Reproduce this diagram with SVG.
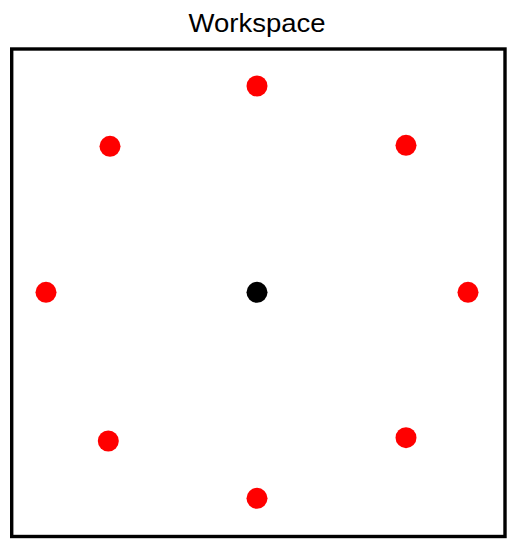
<svg xmlns="http://www.w3.org/2000/svg" width="515" height="547" viewBox="0 0 515 547">
<style>
.title{font-family:"Liberation Sans",Arial,sans-serif;font-size:26px;fill:#000;text-anchor:middle}
.frame{fill:#fff;stroke:#000;stroke-width:3.4}
.pt{fill:#ff0000}
.ctr{fill:#000}
</style>
<rect width="515" height="547" fill="#fff"/>
<text class="title" x="257" y="32" textLength="137" lengthAdjust="spacingAndGlyphs">Workspace</text>
<rect class="frame" x="11.7" y="49" width="493.3" height="487.5"/>
<g id="connectors"></g>
<g id="center"><circle class="ctr" cx="257" cy="292.3" r="10.5"/></g>
<g id="p-top"><circle class="pt" cx="257" cy="86" r="10.5"/></g>
<g id="p-upper-left"><circle class="pt" cx="110" cy="146.3" r="10.5"/></g>
<g id="p-upper-right"><circle class="pt" cx="406" cy="145.3" r="10.5"/></g>
<g id="p-left"><circle class="pt" cx="46" cy="292.3" r="10.5"/></g>
<g id="p-right"><circle class="pt" cx="468" cy="292.3" r="10.5"/></g>
<g id="p-lower-left"><circle class="pt" cx="108.3" cy="441" r="10.5"/></g>
<g id="p-lower-right"><circle class="pt" cx="406" cy="437.7" r="10.5"/></g>
<g id="p-bottom"><circle class="pt" cx="257" cy="498.3" r="10.5"/></g>
</svg>
